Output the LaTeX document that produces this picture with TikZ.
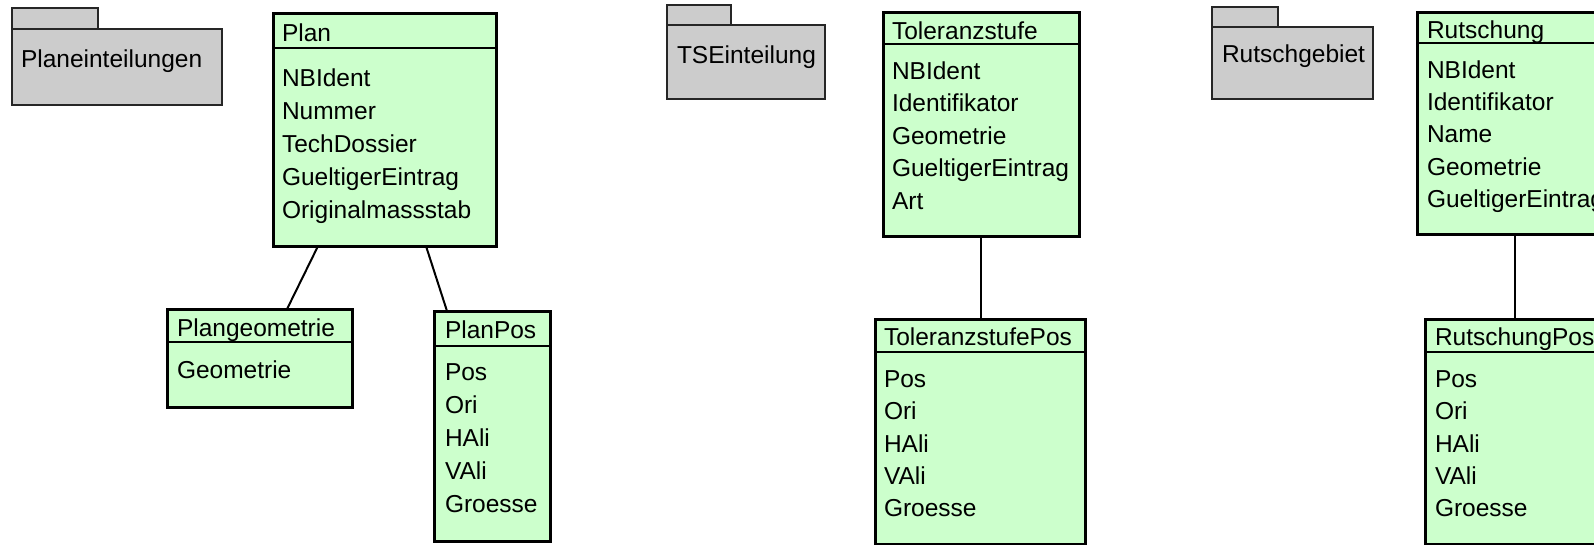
\documentclass[tikz,border=0pt]{standalone}
\usepackage{fontspec}
\setmainfont{Liberation Sans}
\usetikzlibrary{calc}
\definecolor{pkggray}{HTML}{CCCCCC}
\definecolor{clsgreen}{HTML}{CCFFCC}
\tikzset{
  pkgshape/.style={draw=black!85, line width=1.6pt, fill=pkggray, inner sep=0pt, outer sep=0pt, anchor=north west},
  clsbox/.style={draw=black, line width=3pt, fill=clsgreen, inner sep=0pt, outer sep=0pt, anchor=north west},
  hdr/.style={draw=black, line width=2pt},
  conn/.style={draw=black, line width=2pt},
  txt/.style={anchor=base west, inner sep=0pt, outer sep=0pt, font=\fontsize{24.5}{29}\selectfont}
}
\begin{document}
\begin{tikzpicture}[x=1pt,y=-1pt]
\useasboundingbox (0,0) rectangle (1594,544);
\clip (0,0) rectangle (1594,544);
\fill[white] (0,0) rectangle (1594,544);

% ---------- Package Planeinteilungen
\node[pkgshape, minimum width=86, minimum height=21] (petab) at (12,8) {};
\node[pkgshape, minimum width=210, minimum height=76] (pe) at (12,29) {};
\node[txt] (pe-t) at (21,67.5) {Planeinteilungen};

% ---------- Class Plan
\node[clsbox, minimum width=223, minimum height=233] (plan) at (273,13) {};
\draw[hdr] ($(plan.north west)+(0,35)$) -- ($(plan.north east)+(0,35)$);
\node[txt] (plan-t) at (282,41.5) {Plan};
\foreach \t [count=\i from 0] in {NBIdent,Nummer,TechDossier,GueltigerEintrag,Originalmassstab}
  \node[txt] (plan-a\i) at (282,86+33*\i) {\t};

% ---------- Class Plangeometrie
\node[clsbox, minimum width=185, minimum height=98] (plangeo) at (167,309) {};
\draw[hdr] ($(plangeo.north west)+(0,33)$) -- ($(plangeo.north east)+(0,33)$);
\node[txt] (plangeo-t) at (177,336) {Plangeometrie};
\node[txt] (plangeo-a0) at (177,378.5) {Geometrie};

% ---------- Class PlanPos
\node[clsbox, minimum width=116, minimum height=230] (planpos) at (434,311) {};
\draw[hdr] ($(planpos.north west)+(0,35)$) -- ($(planpos.north east)+(0,35)$);
\node[txt] (planpos-t) at (445,338.5) {PlanPos};
\foreach \t [count=\i from 0] in {Pos,Ori,HAli,VAli,Groesse}
  \node[txt] (planpos-a\i) at (445,380.5+33*\i) {\t};

\draw[conn] ($(plan.south west)!0.202!(plan.south east)$) -- ($(plangeo.north west)!0.649!(plangeo.north east)$);
\draw[conn] ($(plan.south west)!0.686!(plan.south east)$) -- ($(planpos.north west)!0.112!(planpos.north east)$);

% ---------- Package TSEinteilung
\node[pkgshape, minimum width=64, minimum height=20] (tsetab) at (667,5) {};
\node[pkgshape, minimum width=158, minimum height=74] (tse) at (667,25) {};
\node[txt] (tse-t) at (677,63.5) {TSEinteilung};

% ---------- Class Toleranzstufe
\node[clsbox, minimum width=196, minimum height=224] (tol) at (883,12) {};
\draw[hdr] ($(tol.north west)+(0,32)$) -- ($(tol.north east)+(0,32)$);
\node[txt] (tol-t) at (892,39.5) {Toleranzstufe};
\foreach \t [count=\i from 0] in {NBIdent,Identifikator,Geometrie,GueltigerEintrag,Art}
  \node[txt] (tol-a\i) at (892,79+32.6*\i) {\t};

% ---------- Class ToleranzstufePos
\node[clsbox, minimum width=210, minimum height=225] (tolpos) at (875,319) {};
\draw[hdr] ($(tolpos.north west)+(0,33)$) -- ($(tolpos.north east)+(0,33)$);
\node[txt] (tolpos-t) at (884,345.5) {ToleranzstufePos};
\foreach \t [count=\i from 0] in {Pos,Ori,HAli,VAli,Groesse}
  \node[txt] (tolpos-a\i) at (884,387.5+32.3*\i) {\t};

\draw[conn] (tol.south) -- (tol.south |- tolpos.north);

% ---------- Package Rutschgebiet
\node[pkgshape, minimum width=66, minimum height=20] (rgtab) at (1212,7) {};
\node[pkgshape, minimum width=161, minimum height=72] (rg) at (1212,27) {};
\node[txt] (rg-t) at (1222,62.5) {Rutschgebiet};

% ---------- Class Rutschung
\node[clsbox, minimum width=195, minimum height=222] (rut) at (1417,12) {};
\draw[hdr] ($(rut.north west)+(0,31)$) -- ($(rut.north east)+(0,31)$);
\node[txt] (rut-t) at (1427,38.5) {Rutschung};
\foreach \t [count=\i from 0] in {NBIdent,Identifikator,Name,Geometrie,GueltigerEintrag}
  \node[txt] (rut-a\i) at (1427,78.5+32.2*\i) {\t};

% ---------- Class RutschungPos
\node[clsbox, minimum width=177, minimum height=225] (rutpos) at (1425,319) {};
\draw[hdr] ($(rutpos.north west)+(0,33)$) -- ($(rutpos.north east)+(0,33)$);
\node[txt] (rutpos-t) at (1435,345.5) {RutschungPos};
\foreach \t [count=\i from 0] in {Pos,Ori,HAli,VAli,Groesse}
  \node[txt] (rutpos-a\i) at (1435,387.5+32.3*\i) {\t};

\draw[conn] (rut.south) -- (rut.south |- rutpos.north);
\end{tikzpicture}
\end{document}
